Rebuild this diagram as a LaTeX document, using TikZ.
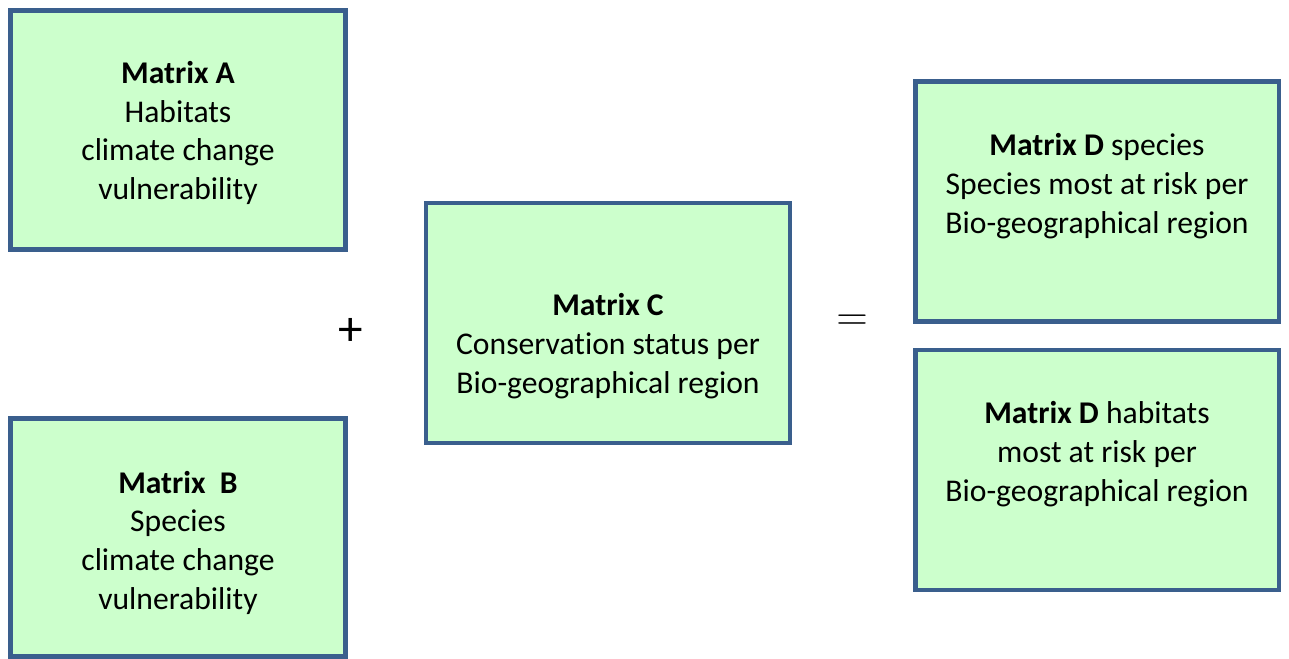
\documentclass[tikz,border=0pt]{standalone}
\usepackage{fontspec}
\setmainfont[Ligatures=NoCommon]{Carlito}
\definecolor{boxfill}{HTML}{CCFFCC}
\definecolor{boxline}{HTML}{3A5F8D}
\tikzset{
  matbox/.style={rectangle, draw=boxline, fill=boxfill, line width=2.8pt, inner sep=0pt},
  mattext/.style={align=center, font=\fontsize{18}{22}\selectfont, inner sep=0pt},
  opsign/.style={inner sep=0pt}
}
\begin{document}
\begin{tikzpicture}[x=0.02cm, y=-0.02cm]
        \useasboundingbox (0,0) rectangle (1289,659);

        % Matrix A
        \node[matbox, minimum width=6.71cm, minimum height=4.79cm] (matA) at (178,130) {};
        \node[mattext] (txtA) at ([yshift=-0.06cm]matA.center) {\textbf{Matrix A}\\Habitats\\climate change\\vulnerability};

        % Matrix B
        \node[matbox, minimum width=6.71cm, minimum height=4.76cm] (matB) at (178,537.5) {};
        \node[mattext] (txtB) at ([yshift=-0.1cm]matB.center) {\textbf{Matrix~ B}\\Species\\climate change\\vulnerability};

        % Matrix C
        \node[matbox, minimum width=7.28cm, minimum height=4.8cm] (matC) at (608,323) {};
        \node[mattext] (txtC) at ([yshift=-0.46cm]matC.center) {\textbf{Matrix C}\\Conservation status per\\Bio-geographical region};

        % Matrix D species
        \node[matbox, minimum width=7.28cm, minimum height=4.8cm] (matDs) at (1097,201.5) {};
        \node[mattext] (txtDs) at ([yshift=0.31cm]matDs.center) {\textbf{Matrix D} species\\Species most at risk per\\Bio-geographical region};

        % Matrix D habitats
        \node[matbox, minimum width=7.28cm, minimum height=4.8cm] (matDh) at (1097,470) {};
        \node[mattext] (txtDh) at ([yshift=0.32cm]matDh.center) {\textbf{Matrix D} habitats\\most at risk per\\Bio-geographical region};

        % Operators
        \node[opsign, font=\fontsize{28}{32}\selectfont] (plus) at (351,332) {+};
        \node[opsign, font=\fontsize{27}{31}\selectfont] (equals) at (852,323) {$=$};
\end{tikzpicture}
\end{document}
